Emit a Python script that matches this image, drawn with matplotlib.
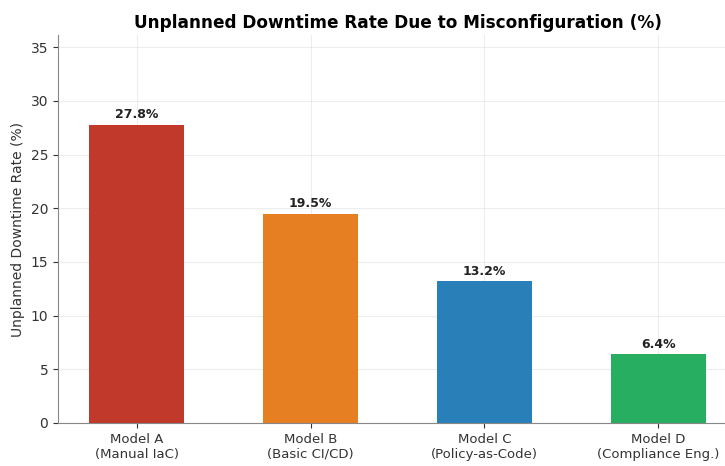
import matplotlib
matplotlib.use("Agg")
import matplotlib.pyplot as plt

categories = ["Model A\n(Manual IaC)", "Model B\n(Basic CI/CD)", "Model C\n(Policy-as-Code)", "Model D\n(Compliance Eng.)"]
values = [27.8, 19.5, 13.2, 6.4]
colors = ["#c0392b", "#e67e22", "#2980b9", "#27ae60"]

fig = plt.figure(figsize=(7.25, 4.66), dpi=100)
W, H = 725, 466
left, right, bottom, top = 58, 737, 423, 35
ax = fig.add_axes([left / W, 1 - bottom / H, (right - left) / W, (bottom - top) / H])

x = range(len(categories))
bars = ax.bar(x, values, width=0.55, color=colors, zorder=2)
ax.set_ylim(0, max(values) * 1.3)
ax.set_xticks(list(x))
ax.set_xticklabels(categories, fontsize=9.5, color="#333333")
ax.tick_params(axis="y", labelsize=10, colors="#333333")
ax.tick_params(axis="x", colors="#333333")
ax.set_ylabel("Unplanned Downtime Rate (%)", fontsize=10, color="#333333")
ax.set_title("Unplanned Downtime Rate Due to Misconfiguration (%)", fontsize=12.2,
             fontweight="bold", pad=5)
ax.grid(True, color="#dddddd", alpha=0.5, linewidth=0.8, zorder=3)
ax.spines["top"].set_visible(False)
ax.spines["right"].set_visible(False)
ax.spines["left"].set_color("#888888")
ax.spines["bottom"].set_color("#888888")

for b, v in zip(bars, values):
    ax.text(b.get_x() + b.get_width() / 2, v + 0.35, f"{v}%", ha="center", va="bottom",
            fontsize=9, fontweight="bold", color="#222222")

fig.savefig("out.png", dpi=100)
